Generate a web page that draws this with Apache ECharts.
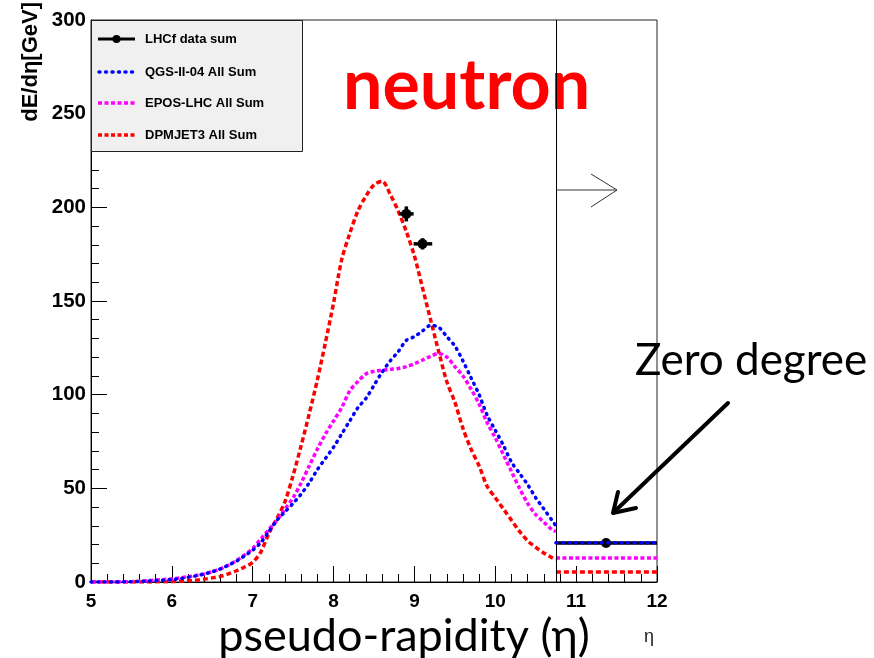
<!DOCTYPE html>
<html>
<head>
<meta charset="utf-8">
<script src="https://cdn.jsdelivr.net/npm/echarts@6/dist/echarts.min.js"></script>
<style>
  html, body { margin: 0; padding: 0; background: #ffffff; }
  #main { width: 874px; height: 658px; }
</style>
</head>
<body>
<div id="main"></div>
<script>
// Pseudo-rapidity bin centres for the model curves
const etaBins = [
  5.0, 5.1, 5.2, 5.3, 5.4, 5.5, 5.6, 5.7, 5.8, 5.9,
  6.0, 6.1, 6.2, 6.3, 6.4, 6.5, 6.6, 6.7, 6.8, 6.9,
  7.0, 7.1, 7.2, 7.3, 7.4, 7.5, 7.6, 7.7, 7.8, 7.9,
  8.0, 8.1, 8.2, 8.3, 8.4, 8.5, 8.6, 8.7, 8.8, 8.9,
  9.0, 9.1, 9.2, 9.3, 9.4, 9.5, 9.6, 9.7, 9.8, 9.9,
  10.0, 10.1, 10.2, 10.3, 10.4, 10.5, 10.6, 10.7, 10.75
];

// dE/deta [GeV] for each model (neutron, all-sum)
const qgsSum = [
  0, 0, 0, 0, 0.1, 0.2, 0.3, 0.5, 0.7, 1.0,
  1.3, 1.8, 2.5, 3.3, 4.3, 5.5, 7.0, 9.0, 11.2, 14,
  17, 21, 27, 33, 37.5, 42, 47, 53, 60, 66,
  72, 79, 86, 93, 98, 105, 112, 118, 123, 129,
  131, 134, 137, 136, 131, 126, 118, 109, 100, 89,
  81, 73, 64, 58, 52, 45, 39, 33, 30
];
const eposSum = [
  0, 0, 0, 0, 0.1, 0.2, 0.4, 0.7, 1.0, 1.3,
  1.7, 2.2, 2.8, 3.5, 4.3, 5.5, 7.0, 9.0, 11.5, 14.5,
  18, 23, 28, 33, 39, 45, 53, 62, 71, 79,
  86, 93, 102, 107, 111, 112.5, 113, 113.5, 114, 115,
  116.5, 118.5, 120.5, 122, 120, 115, 110, 103, 95, 85,
  77, 68, 59, 50, 42, 36, 32, 28, 27
];
const dpmjetSum = [
  0, 0, 0, 0, 0, 0, 0, 0, 0.1, 0.1,
  0.2, 0.4, 0.7, 1.0, 1.5, 2.2, 3.0, 4.3, 6.0, 8.0,
  10.5, 16, 26, 34, 43, 57, 73, 90, 108, 128,
  149, 172, 186, 198, 206, 212, 214, 207, 198, 187,
  174, 157, 140, 123, 107, 96, 82, 71, 62, 51,
  45, 39, 33, 27, 22, 18.5, 15.5, 13, 12
];

// Zero-degree region (eta > 10.75)
const zeroDegEta = [10.75, 12];
const zeroDegQgs = 21;
const zeroDegEpos = 12.8;
const zeroDegDpmjet = 5.3;

// LHCf measurements: [eta, value, etaLow, etaHigh, valueLow, valueHigh]
const lhcfEta = [8.9, 9.1, 11.37];
const lhcfValue = [196.5, 180.5, 20.8];
const lhcfEtaLow = [8.81, 8.99, 10.75];
const lhcfEtaHigh = [8.99, 9.22, 12];
const lhcfValueLow = [192.5, 177.5, 20.8];
const lhcfValueHigh = [200.5, 183.5, 20.8];

// Axis ticks
const xTicks = { min: 5, max: 12, step: 1 };
const yTicks = { min: 0, max: 300, step: 50 };

const BLUE = '#0000ff', MAGENTA = '#ff00ff', RED = '#ff0000';
const blueStyle = { color: BLUE, width: 3.5, type: [1, 5.5], cap: 'round' };
const magentaStyle = { color: MAGENTA, width: 3.5, type: [4, 2.5] };
const redStyle = { color: RED, width: 3.5, type: [5, 3] };

const curve = vals => etaBins.map((e, i) => [e, vals[i]]);
const step = v => zeroDegEta.map(e => [e, v]);
const lhcfData = lhcfEta.map((e, i) => [e, lhcfValue[i], lhcfEtaLow[i], lhcfEtaHigh[i], lhcfValueLow[i], lhcfValueHigh[i]]);

const chart = echarts.init(document.getElementById('main'), null, { renderer: 'canvas' });

const labelFont = { fontFamily: 'Liberation Sans', fontWeight: 'bold', color: '#000' };
const legendText = (y, text) => ({
  type: 'text', x: 145, y: y, z: 11,
  style: { text: text, fontFamily: 'Liberation Sans', fontWeight: 'bold', fontSize: 13, fill: '#000', verticalAlign: 'middle' }
});

const option = {
  animation: false,
  backgroundColor: '#ffffff',
  grid: {
    left: 91, right: 217, top: 20, bottom: 76,
    show: true, borderColor: '#222', borderWidth: 1, backgroundColor: 'transparent'
  },
  xAxis: {
    type: 'value', min: xTicks.min, max: xTicks.max, interval: xTicks.step,
    axisLine: { show: true, lineStyle: { color: '#000', width: 1 } },
    axisTick: { show: true, inside: true, length: 16, lineStyle: { color: '#000', width: 1 } },
    minorTick: { show: true, splitNumber: 5, length: 8, lineStyle: { color: '#000', width: 1 } },
    splitLine: { show: false },
    axisLabel: Object.assign({ fontSize: 19, margin: 10 }, labelFont)
  },
  yAxis: {
    type: 'value', min: yTicks.min, max: yTicks.max, interval: yTicks.step,
    axisLine: { show: true, lineStyle: { color: '#000', width: 1 } },
    axisTick: { show: true, inside: true, length: 16, lineStyle: { color: '#000', width: 1 } },
    minorTick: { show: true, splitNumber: 5, length: 8, lineStyle: { color: '#000', width: 1 } },
    splitLine: { show: false },
    axisLabel: Object.assign({ fontSize: 20.5, margin: 5 }, labelFont)
  },
  series: [
    {
      name: 'DPMJET3 All Sum', type: 'line', data: curve(dpmjetSum),
      showSymbol: false, smooth: 0.3, lineStyle: redStyle, z: 2,
      markLine: {
        silent: true, symbol: 'none', label: { show: false },
        lineStyle: { color: '#000', width: 1, type: 'solid' },
        data: [{ xAxis: zeroDegEta[0] }]
      }
    },
    { name: 'DPMJET3 zero degree', type: 'line', data: step(zeroDegDpmjet), showSymbol: false, lineStyle: redStyle, z: 2 },
    { name: 'EPOS-LHC All Sum', type: 'line', data: curve(eposSum), showSymbol: false, smooth: 0.3, lineStyle: magentaStyle, z: 3 },
    { name: 'EPOS-LHC zero degree', type: 'line', data: step(zeroDegEpos), showSymbol: false, lineStyle: magentaStyle, z: 3 },
    {
      name: 'LHCf data sum', type: 'custom', data: lhcfData, z: 4,
      encode: { x: [0, 2, 3], y: [1, 4, 5] },
      renderItem: function (params, api) {
        const c = api.coord([api.value(0), api.value(1)]);
        const xl = api.coord([api.value(2), api.value(1)]);
        const xh = api.coord([api.value(3), api.value(1)]);
        const yl = api.coord([api.value(0), api.value(4)]);
        const yh = api.coord([api.value(0), api.value(5)]);
        const st = { stroke: '#000', lineWidth: 3.5 };
        return {
          type: 'group',
          children: [
            { type: 'line', shape: { x1: xl[0], y1: xl[1], x2: xh[0], y2: xh[1] }, style: st },
            { type: 'line', shape: { x1: yl[0], y1: yl[1], x2: yh[0], y2: yh[1] }, style: st },
            { type: 'circle', shape: { cx: c[0], cy: c[1], r: 5 }, style: { fill: '#000' } }
          ]
        };
      }
    },
    { name: 'QGS-II-04 All Sum', type: 'line', data: curve(qgsSum), showSymbol: false, smooth: 0.3, lineStyle: blueStyle, z: 5 },
    { name: 'QGS-II-04 zero degree', type: 'line', data: step(zeroDegQgs), showSymbol: false, lineStyle: blueStyle, z: 5 }
  ],
  graphic: {
    elements: [
      // legend box
      { type: 'rect', shape: { x: 91.5, y: 20.5, width: 211, height: 131 }, style: { fill: '#f0f0f0', stroke: '#222', lineWidth: 1 }, z: 10 },
      { type: 'line', shape: { x1: 98, y1: 39, x2: 135, y2: 39 }, style: { stroke: '#000', lineWidth: 3 }, z: 11 },
      { type: 'circle', shape: { cx: 116.5, cy: 39, r: 4 }, style: { fill: '#000' }, z: 11 },
      { type: 'line', shape: { x1: 99, y1: 72, x2: 135, y2: 72 }, style: { stroke: BLUE, lineWidth: 3.5, lineDash: [1, 5.5], lineCap: 'round' }, z: 11 },
      { type: 'line', shape: { x1: 98, y1: 103, x2: 135, y2: 103 }, style: { stroke: MAGENTA, lineWidth: 3.5, lineDash: [4, 2.5] }, z: 11 },
      { type: 'line', shape: { x1: 98, y1: 135, x2: 135, y2: 135 }, style: { stroke: RED, lineWidth: 3.5, lineDash: [4, 2.5] }, z: 11 },
      legendText(39, 'LHCf data sum'),
      legendText(72, 'QGS-II-04 All Sum'),
      legendText(103, 'EPOS-LHC All Sum'),
      legendText(135, 'DPMJET3 All Sum'),

      // y axis title
      { type: 'text', x: 31, y: 2, rotation: Math.PI / 2, style: { text: 'dE/dη[GeV]', fontFamily: 'Liberation Sans', fontWeight: 'bold', fontSize: 22, fill: '#000', align: 'right', verticalAlign: 'middle' } },
      // small eta axis title
      { type: 'text', x: 649, y: 637, style: { text: 'η', fontFamily: 'Liberation Sans', fontSize: 18, fill: '#222', align: 'center', verticalAlign: 'middle' } },
      // x axis title
      { type: 'text', x: 404, y: 636, style: { text: 'pseudo-rapidity (η)', fontFamily: 'Lato', fontSize: 45, fill: '#000', align: 'center', verticalAlign: 'middle' } },

      // headline
      { type: 'text', x: 343, y: 51, style: { text: 'neutron', fontFamily: 'Lato', fontWeight: 'bold', fontSize: 70, fill: '#ff0000', align: 'left', verticalAlign: 'top' } },

      // arrow pointing into the zero-degree region
      { type: 'line', shape: { x1: 557, y1: 190, x2: 617, y2: 190 }, style: { stroke: '#333', lineWidth: 1 } },
      { type: 'polyline', shape: { points: [[591, 174], [617, 190], [591, 207]] }, style: { stroke: '#333', lineWidth: 1, fill: null } },

      // "Zero degree" annotation
      { type: 'text', x: 635, y: 339, style: { text: 'Zero degree', fontFamily: 'Lato', fontSize: 44, fill: '#000', align: 'left', verticalAlign: 'top' } },
      { type: 'line', shape: { x1: 728, y1: 403, x2: 614, y2: 512 }, style: { stroke: '#000', lineWidth: 4, lineCap: 'round' } },
      { type: 'polyline', shape: { points: [[618, 492], [613, 513], [636, 508]] }, style: { stroke: '#000', lineWidth: 4, lineCap: 'round', lineJoin: 'round', fill: null } }
    ]
  }
};

chart.setOption(option);
</script>
</body>
</html>
